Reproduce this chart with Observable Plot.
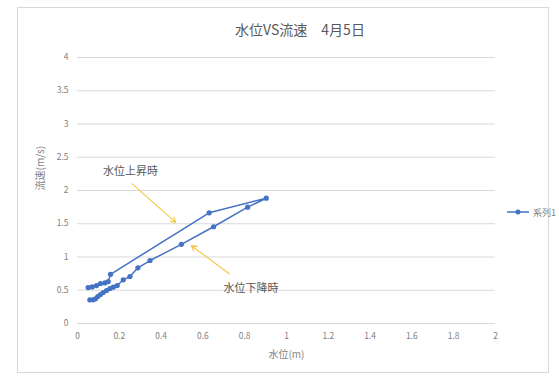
<!DOCTYPE html>
<html><head><meta charset="utf-8">
<script src="https://cdn.jsdelivr.net/npm/d3@7"></script>
<script src="https://cdn.jsdelivr.net/npm/@observablehq/plot@0.6"></script>
<style>
body{margin:0;background:#fff;overflow:hidden;}
#wrap{position:relative;width:559px;height:379px;font-family:"Noto Sans CJK JP","Noto Sans",sans-serif;overflow:hidden;}
#frame{position:absolute;left:17px;top:7px;width:532px;height:366px;border:1px solid #d9d9d9;box-sizing:border-box;}
#title{position:absolute;top:19px;left:200px;width:200px;text-align:center;font-size:14px;color:#595959;white-space:nowrap;}
#legend{position:absolute;left:506px;top:204px;font-size:9px;color:#7f7f7f;white-space:nowrap;display:flex;align-items:center;}
#chart{position:absolute;left:0;top:0;}
</style></head>
<body>
<div id="wrap">
<div id="frame"></div>
<div id="chart"></div>
<div id="title">水位VS流速　4月5日</div>
<div id="legend"><svg width="24" height="16"><line x1="1" y1="8" x2="23" y2="8" stroke="#4472C4" stroke-width="1.5"/><circle cx="12" cy="8" r="2.5" fill="#4472C4"/></svg><span style="margin-left:3px">系列1</span></div>
</div>
<script>
// water level (m) and velocity (m/s), in measurement order
const waterLevel = [0.051, 0.070, 0.091, 0.110, 0.131, 0.147, 0.158, 0.630, 0.903,
  0.814, 0.651, 0.497, 0.347, 0.289, 0.251, 0.219, 0.190, 0.171, 0.155, 0.139, 0.123, 0.110, 0.097, 0.086, 0.074, 0.059];
const velocity = [0.54, 0.55, 0.57, 0.60, 0.61, 0.63, 0.74, 1.665, 1.884,
  1.75, 1.455, 1.19, 0.947, 0.837, 0.707, 0.657, 0.571, 0.546, 0.526, 0.496, 0.466, 0.436, 0.406, 0.371, 0.356, 0.356];
const xTicks = [0, 0.2, 0.4, 0.6, 0.8, 1, 1.2, 1.4, 1.6, 1.8, 2];
const yTicks = [0, 0.5, 1, 1.5, 2, 2.5, 3, 3.5, 4];
const annotLabels = ["水位上昇時", "水位下降時"];
const annotX = [0.254, 0.83];
const annotY = [2.28, 0.52];
const arrowX1 = [0.262, 0.726];
const arrowY1 = [2.10, 0.747];
const arrowX2 = [0.47, 0.545];
const arrowY2 = [1.52, 1.17];

const data = waterLevel.map((x, i) => ({x, y: velocity[i]}));
const annots = annotLabels.map((t, i) => ({t, x: annotX[i], y: annotY[i]}));
const arrows = arrowX1.map((x1, i) => ({x1, y1: arrowY1[i], x2: arrowX2[i], y2: arrowY2[i]}));

const fmt = d => String(d);
const plot = Plot.plot({
  width: 559, height: 379,
  marginLeft: 77, marginRight: 64, marginTop: 57, marginBottom: 56,
  x: {domain: [0, 2]},
  y: {domain: [0, 4]},
  style: {fontFamily: '"Noto Sans CJK JP","Noto Sans",sans-serif', fontSize: "8.5px", color: "#7f7f7f", background: "transparent", overflow: "visible"},
  marks: [
    Plot.gridY(yTicks, {stroke: "#d9d9d9", strokeOpacity: 1, strokeWidth: 1}),
    Plot.axisX(xTicks, {tickSize: 0, tickPadding: 9, tickFormat: fmt, label: null, fill: "#7f7f7f"}),
    Plot.axisY(yTicks, {tickSize: 0, tickPadding: 9, tickFormat: fmt, label: null, fill: "#7f7f7f"}),
    Plot.text(["水位(m)"], {frameAnchor: "bottom", dy: 34, fontSize: 10, fill: "#7f7f7f"}),
    Plot.text(["流速(m/s)"], {frameAnchor: "left", dx: -37, rotate: -90, fontSize: 10, fill: "#7f7f7f"}),
    Plot.line(data, {x: "x", y: "y", stroke: "#4472C4", strokeWidth: 1.5}),
    Plot.dot(data, {x: "x", y: "y", r: 2.6, fill: "#4472C4", stroke: "none"}),
    Plot.arrow(arrows, {x1: "x1", y1: "y1", x2: "x2", y2: "y2", stroke: "#F2C94C", strokeWidth: 1.2, headLength: 7}),
    Plot.text(annots, {x: "x", y: "y", text: "t", fontSize: 11, fill: "#595959"})
  ]
});
document.getElementById("chart").append(plot);
</script>
</body></html>
